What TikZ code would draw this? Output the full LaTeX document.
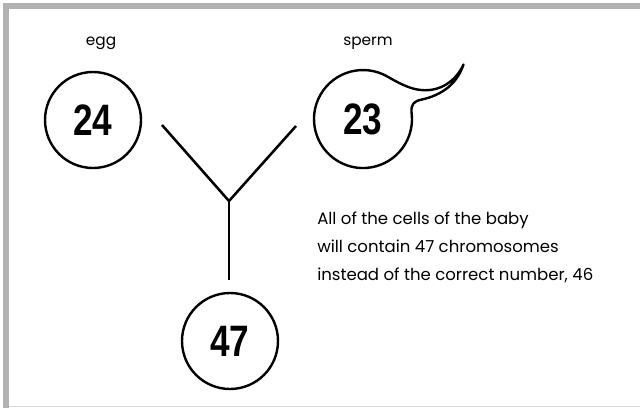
\documentclass[tikz,border=0pt]{standalone}
\usepackage{fontspec}
\setmainfont{Poppins}
\newfontfamily\numfont{Liberation Sans}
\begin{document}
\begin{tikzpicture}[x=0.75pt,y=-0.75pt,
  frame/.style={draw=black!30, line width=4.5pt},
  num/.style={circle, draw=black, line width=1.8pt, minimum size=72pt, inner sep=0pt,
    font=\numfont\bfseries\fontsize{33}{33}\selectfont},
  lbl/.style={font=\fontsize{11.5}{13}\selectfont, inner sep=0pt},
  para/.style={font=\fontsize{12.4}{21}\selectfont, align=left, inner sep=0pt, anchor=north west},
  yline/.style={line width=1.9pt, draw=black}]
\useasboundingbox (0,0) rectangle (640,408);
\fill[white] (0,0) rectangle (640,408);
\draw[frame] (6,408) -- (6,6) -- (640,6);
\draw[black!15, line width=0.75pt] (9,406) -- (640,406);
% labels
\node[lbl] (egg) at (101,43) {egg};
\node[lbl] (sperm) at (368,43) {sperm};
% circles
\node[num] (n24) at (93,120) {\scalebox{0.8}[1]{24}};
\node[num] (n47) at (230,341) {\scalebox{0.8}[1]{47}};
% sperm shape
\draw[line width=1.8pt, line join=round]
  (387.5,76.6) arc[start angle=60, end angle=368, radius=36.75pt]
  .. controls (411,104) and (414,101) .. (422,99.5)
  .. controls (442,95) and (457,84) .. (463.5,64.5)
  .. controls (456,81) and (440,92) .. (421,90)
  .. controls (409,89) and (397,82) .. (387.5,76.6) -- cycle;
\node[num, draw=none] (n23) at (363,119) {\scalebox{0.8}[1]{23}};
% Y connector
\coordinate (ya) at (162,125);
\coordinate (yb) at (296,126);
\coordinate (yj) at (229,201);
\coordinate (ys) at (229,280);
\draw[yline, line join=miter] (ya) -- (yj) -- (yb);
\draw[yline] (yj) -- (ys);
% paragraph
\node[para] (txt) at (317,212) {All of the cells of the baby\\will contain 47 chromosomes\\instead of the correct number, 46};
\end{tikzpicture}
\end{document}
